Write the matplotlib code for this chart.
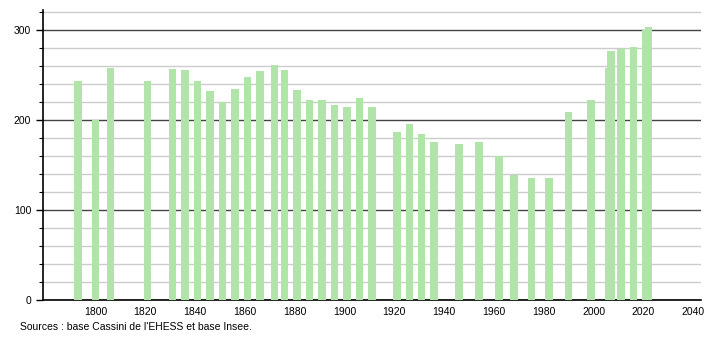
import matplotlib
matplotlib.use("Agg")
import matplotlib.pyplot as plt
from matplotlib.ticker import MultipleLocator

years = [1793, 1800, 1806, 1821, 1831, 1836, 1841, 1846, 1851, 1856, 1861, 1866,
         1872, 1876, 1881, 1886, 1891, 1896, 1901, 1906, 1911, 1921, 1926, 1931,
         1936, 1946, 1954, 1962, 1968, 1975, 1982, 1990, 1999, 2006, 2007, 2011,
         2016, 2021, 2022]
population = [243, 200, 258, 243, 256, 255, 243, 232, 220, 234, 248, 254,
              261, 255, 233, 222, 222, 217, 214, 224, 214, 186, 195, 184,
              175, 173, 175, 160, 139, 136, 136, 209, 222, 258, 276, 279,
              281, 300, 303]
xticks = [1800, 1820, 1840, 1860, 1880, 1900, 1920, 1940, 1960, 1980, 2000, 2020, 2040]
source = "Sources : base Cassini de l'EHESS et base Insee."

plt.rcParams['font.family'] = ['Liberation Sans', 'DejaVu Sans']
fig = plt.figure(figsize=(7.1, 3.4), dpi=100)
ax = fig.add_axes([0.0606, 0.1176, 0.9264, 0.853])

ax.bar(years, population, width=3.0, color='#b0e4a9', zorder=3, linewidth=0)

ax.set_xlim(1779, 2043)
ax.set_ylim(0, 322)
ax.yaxis.set_major_locator(MultipleLocator(100))
ax.yaxis.set_minor_locator(MultipleLocator(20))
ax.set_xticks(xticks)
ax.set_xticklabels([str(y) for y in xticks])

ax.grid(axis='y', which='minor', color='#cccccc', linewidth=1.0, zorder=1)
ax.grid(axis='y', which='major', color='#444444', linewidth=1.0, zorder=2)
ax.grid(axis='x', visible=False)

for s in ['top', 'right']:
    ax.spines[s].set_visible(False)
ax.spines['left'].set_color('black')
ax.spines['bottom'].set_color('black')
ax.spines['left'].set_linewidth(1.2)
ax.spines['bottom'].set_linewidth(1.2)

ax.tick_params(axis='x', length=0, labelsize=7.5, pad=5)
ax.tick_params(axis='y', which='major', length=5, labelsize=7.5, width=1)
ax.tick_params(axis='y', which='minor', length=3, width=0.8)

fig.text(0.028, 0.038, source, fontsize=7.5, ha='left', va='center')

fig.savefig('out.png', dpi=100)
